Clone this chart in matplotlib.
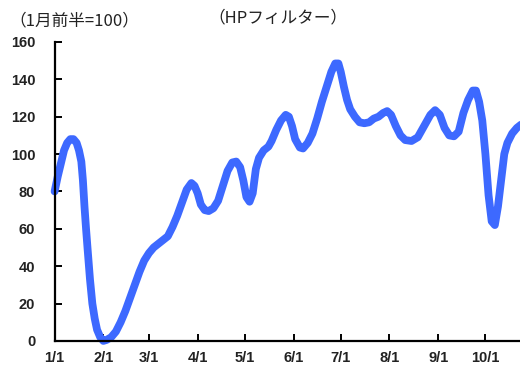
import matplotlib
matplotlib.use("Agg")
import matplotlib.pyplot as plt

# Day offsets from 1 January and the HP-filtered index (first half of January = 100)
days = [0, 2, 4, 6, 8, 10, 12, 14, 15.5, 17, 18, 19, 20, 21, 22.5, 24, 25.5, 27, 29, 31,
        33, 36, 39, 42, 45, 48, 51, 54, 57, 60, 63, 66, 69, 72, 75, 78, 81, 84, 87,
        89, 91, 93, 95.5, 98, 101, 104, 107, 110, 113, 115.5, 118, 120, 122, 124,
        126, 128, 130, 133, 136, 138, 141, 144, 147, 149, 151, 153, 156, 158, 161,
        164, 167, 170, 173, 176, 178.5, 180.5, 182, 184, 186, 188, 191, 194, 197,
        200, 203, 206, 209, 211.5, 214, 217, 220, 223, 227, 231, 235, 239, 242, 245,
        248, 251, 254, 257, 260, 263, 266, 268, 270, 272, 274, 276, 278, 280, 282,
        284, 286, 288, 291, 294, 297]
index_values = [80, 88, 95, 102, 106, 108, 108, 106, 102, 96, 86, 72, 60, 49, 33, 20, 12,
                6, 2, 0, 0.5, 2, 5, 10, 16, 23, 30, 37, 43, 47, 50, 52, 54, 56, 61, 67,
                74, 81, 84.5, 83, 79, 73, 70, 69.5, 71, 75, 83, 91, 95.5, 96, 93, 86, 77,
                74.5, 79, 92, 98, 102, 104, 107, 113, 118, 121, 120, 115, 108, 103.5,
                103, 106, 111, 119, 128, 136, 144, 148.5, 148.5, 144, 136, 129, 124, 120,
                117, 116.5, 117, 119, 120, 122, 123, 121, 115, 110, 107.5, 107, 109, 115,
                121, 123.5, 121, 114, 110, 109.5, 112, 122, 129, 134, 134, 128, 118, 100,
                78, 64, 62, 72, 86, 100, 106, 111, 114, 116]

month_starts = [0, 31, 60, 91, 121, 152, 182, 213, 244, 274]
month_labels = ["1/1", "2/1", "3/1", "4/1", "5/1", "6/1", "7/1", "8/1", "9/1", "10/1"]
y_ticks = [0, 20, 40, 60, 80, 100, 120, 140, 160]

fig = plt.figure(figsize=(5.2, 3.65), dpi=100)
ax = fig.add_axes([0.105, 0.066, 0.895, 0.819])

ax.plot(days, index_values, color="#3d69ff", linewidth=5.6,
        solid_joinstyle="round", solid_capstyle="round", clip_on=False)

ax.set_xlim(0, 296)
ax.set_ylim(0, 160)

for side in ("top", "right"):
    ax.spines[side].set_visible(False)
for side in ("left", "bottom"):
    ax.spines[side].set_linewidth(1.6)
    ax.spines[side].set_color("black")

tick_font = dict(family="Liberation Sans", weight="bold", size=10.5)
ax.set_xticks(month_starts)
ax.set_xticklabels(month_labels, **tick_font)
ax.set_yticks(y_ticks)
ax.set_yticklabels([str(v) for v in y_ticks], **tick_font)
ax.tick_params(axis="both", colors="#222222")
ax.tick_params(axis="y", direction="in", length=5, width=1.4, pad=14, color="black")
ax.tick_params(axis="x", direction="in", length=5, width=1.4, pad=7, color="black")

cjk = ["Noto Sans CJK JP", "DejaVu Sans"]
fig.text(0.018, 0.943, "（1月前半=100）", family=cjk, fontsize=12,
         ha="left", va="center", color="#222222")
fig.text(0.535, 0.952, "（HPフィルター）", family=cjk, fontsize=12,
         ha="center", va="center", color="#222222")

fig.savefig("out.png", dpi=100)
